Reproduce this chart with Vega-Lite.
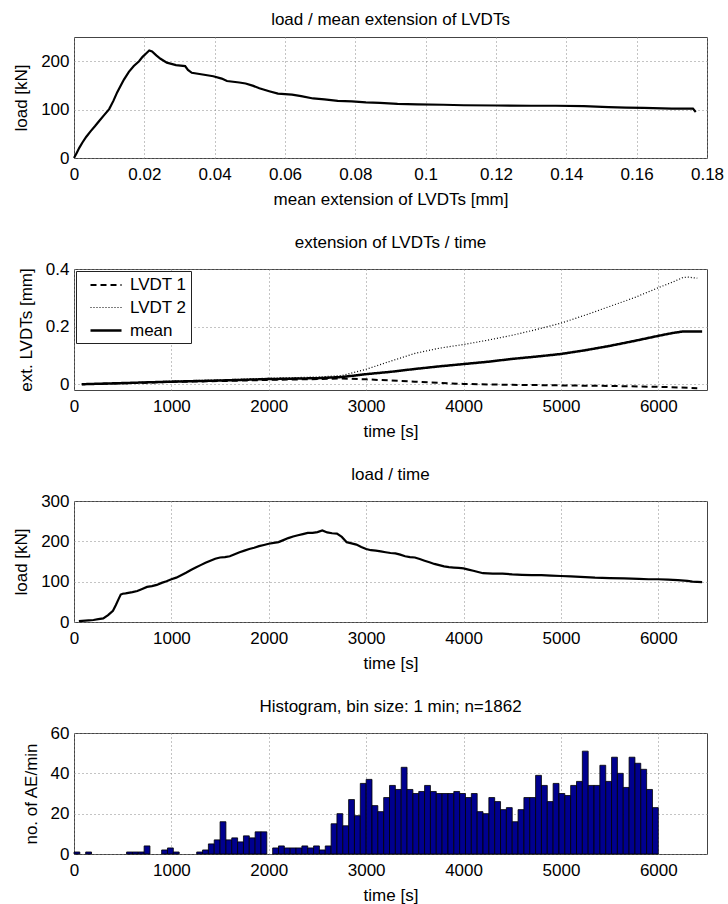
{
  "$schema": "https://vega.github.io/schema/vega-lite/v6.json",
  "background": "white",
  "padding": {"left": 12, "top": 10, "right": 3, "bottom": 2},
  "spacing": 25,
  "resolve": {"legend": {"strokeDash": "independent", "strokeWidth": "independent"}, "scale": {"strokeDash": "independent", "strokeWidth": "independent"}},
  "config": {
    "font": "Liberation Sans",
    "view": {"stroke": "#444", "strokeWidth": 1},
    "axis": {
      "labelFont": "Liberation Sans", "labelFontSize": 17, "labelColor": "black",
      "titleFont": "Liberation Sans", "titleFontSize": 17, "titleFontWeight": "normal", "titleColor": "black",
      "ticks": false, "domain": false, "gridColor": "#888", "gridDash": [1, 3], "gridOpacity": 1,
      "labelPadding": 5, "labelFlush": false, "labelOverlap": false, "format": "~r"
    },
    "axisX": {"labelPadding": 8, "titlePadding": 9},
    "axisY": {"titlePadding": 10},
    "title": {"font": "Liberation Sans", "fontSize": 17, "fontWeight": "normal", "color": "black", "offset": 8, "anchor": "middle"},
    "legend": {
      "orient": "top-left", "offset": 2, "strokeColor": "#222", "fillColor": "white", "padding": 4.5,
      "symbolType": "M0,0H3.65", "symbolSize": 289, "symbolStrokeColor": "black", "symbolFillColor": "transparent",
      "labelFont": "Liberation Sans", "labelFontSize": 17, "labelColor": "black", "labelOffset": 29.5, "rowPadding": 4.5
    }
  },
  "datasets": {
    "p1": [
      {"ext": 0, "load": 0}, {"ext": 0.0008, "load": 11}, {"ext": 0.0015, "load": 21}, {"ext": 0.0024, "load": 32},
      {"ext": 0.0035, "load": 44}, {"ext": 0.0047, "load": 55}, {"ext": 0.006, "load": 66}, {"ext": 0.0071, "load": 76},
      {"ext": 0.0085, "load": 88}, {"ext": 0.01, "load": 101}, {"ext": 0.0112, "load": 118}, {"ext": 0.0123, "load": 136},
      {"ext": 0.0133, "load": 150}, {"ext": 0.0142, "load": 162}, {"ext": 0.0156, "load": 178}, {"ext": 0.017, "load": 190},
      {"ext": 0.0185, "load": 200}, {"ext": 0.0195, "load": 209}, {"ext": 0.0205, "load": 216}, {"ext": 0.0214, "load": 222},
      {"ext": 0.0222, "load": 220}, {"ext": 0.0234, "load": 212}, {"ext": 0.0246, "load": 205}, {"ext": 0.0264, "load": 197},
      {"ext": 0.029, "load": 192}, {"ext": 0.0316, "load": 190}, {"ext": 0.0324, "load": 182}, {"ext": 0.0335, "load": 176},
      {"ext": 0.037, "load": 172}, {"ext": 0.0396, "load": 169}, {"ext": 0.042, "load": 164}, {"ext": 0.0435, "load": 159},
      {"ext": 0.047, "load": 156}, {"ext": 0.0488, "load": 154}, {"ext": 0.051, "load": 149}, {"ext": 0.0527, "load": 144},
      {"ext": 0.0555, "load": 138}, {"ext": 0.058, "load": 133}, {"ext": 0.062, "load": 131}, {"ext": 0.0646, "load": 128},
      {"ext": 0.068, "load": 123}, {"ext": 0.0712, "load": 121}, {"ext": 0.075, "load": 118}, {"ext": 0.079, "load": 117},
      {"ext": 0.083, "load": 115}, {"ext": 0.087, "load": 114}, {"ext": 0.092, "load": 112}, {"ext": 0.0976, "load": 111},
      {"ext": 0.105, "load": 110}, {"ext": 0.1108, "load": 109}, {"ext": 0.12, "load": 108.5}, {"ext": 0.13, "load": 108},
      {"ext": 0.137, "load": 108}, {"ext": 0.145, "load": 107}, {"ext": 0.152, "load": 105}, {"ext": 0.157, "load": 104},
      {"ext": 0.162, "load": 103.5}, {"ext": 0.17, "load": 102}, {"ext": 0.176, "load": 102}, {"ext": 0.1768, "load": 95}
    ],
    "p2": [
      {"t": 80, "ext": 0, "series": "LVDT 1"}, {"t": 500, "ext": 0.003, "series": "LVDT 1"}, {"t": 1000, "ext": 0.008, "series": "LVDT 1"},
      {"t": 1500, "ext": 0.011, "series": "LVDT 1"}, {"t": 2000, "ext": 0.015, "series": "LVDT 1"}, {"t": 2500, "ext": 0.018, "series": "LVDT 1"},
      {"t": 2750, "ext": 0.02, "series": "LVDT 1"}, {"t": 3000, "ext": 0.017, "series": "LVDT 1"}, {"t": 3250, "ext": 0.013, "series": "LVDT 1"},
      {"t": 3500, "ext": 0.009, "series": "LVDT 1"}, {"t": 3750, "ext": 0.005, "series": "LVDT 1"}, {"t": 4000, "ext": 0.001, "series": "LVDT 1"},
      {"t": 4500, "ext": -0.002, "series": "LVDT 1"}, {"t": 5000, "ext": -0.004, "series": "LVDT 1"}, {"t": 5500, "ext": -0.006, "series": "LVDT 1"},
      {"t": 6000, "ext": -0.009, "series": "LVDT 1"}, {"t": 6200, "ext": -0.011, "series": "LVDT 1"}, {"t": 6400, "ext": -0.014, "series": "LVDT 1"},
      {"t": 80, "ext": 0, "series": "LVDT 2"}, {"t": 500, "ext": 0.004, "series": "LVDT 2"}, {"t": 1000, "ext": 0.011, "series": "LVDT 2"},
      {"t": 1500, "ext": 0.015, "series": "LVDT 2"}, {"t": 2000, "ext": 0.021, "series": "LVDT 2"}, {"t": 2500, "ext": 0.025, "series": "LVDT 2"},
      {"t": 2750, "ext": 0.03, "series": "LVDT 2"}, {"t": 3000, "ext": 0.052, "series": "LVDT 2"}, {"t": 3250, "ext": 0.08, "series": "LVDT 2"},
      {"t": 3500, "ext": 0.107, "series": "LVDT 2"}, {"t": 3750, "ext": 0.125, "series": "LVDT 2"}, {"t": 4000, "ext": 0.138, "series": "LVDT 2"},
      {"t": 4250, "ext": 0.153, "series": "LVDT 2"}, {"t": 4500, "ext": 0.17, "series": "LVDT 2"}, {"t": 4750, "ext": 0.19, "series": "LVDT 2"},
      {"t": 5000, "ext": 0.212, "series": "LVDT 2"}, {"t": 5250, "ext": 0.24, "series": "LVDT 2"}, {"t": 5500, "ext": 0.27, "series": "LVDT 2"},
      {"t": 5750, "ext": 0.3, "series": "LVDT 2"}, {"t": 6000, "ext": 0.335, "series": "LVDT 2"}, {"t": 6150, "ext": 0.355, "series": "LVDT 2"},
      {"t": 6250, "ext": 0.37, "series": "LVDT 2"}, {"t": 6300, "ext": 0.372, "series": "LVDT 2"}, {"t": 6400, "ext": 0.368, "series": "LVDT 2"},
      {"t": 80, "ext": 0, "series": "mean"}, {"t": 500, "ext": 0.004, "series": "mean"}, {"t": 1000, "ext": 0.009, "series": "mean"},
      {"t": 1500, "ext": 0.013, "series": "mean"}, {"t": 2000, "ext": 0.018, "series": "mean"}, {"t": 2500, "ext": 0.021, "series": "mean"},
      {"t": 2750, "ext": 0.025, "series": "mean"}, {"t": 3000, "ext": 0.035, "series": "mean"}, {"t": 3250, "ext": 0.043, "series": "mean"},
      {"t": 3500, "ext": 0.053, "series": "mean"}, {"t": 3750, "ext": 0.062, "series": "mean"}, {"t": 4000, "ext": 0.07, "series": "mean"},
      {"t": 4250, "ext": 0.078, "series": "mean"}, {"t": 4500, "ext": 0.088, "series": "mean"}, {"t": 4750, "ext": 0.096, "series": "mean"},
      {"t": 5000, "ext": 0.105, "series": "mean"}, {"t": 5250, "ext": 0.118, "series": "mean"}, {"t": 5500, "ext": 0.133, "series": "mean"},
      {"t": 5750, "ext": 0.15, "series": "mean"}, {"t": 6000, "ext": 0.168, "series": "mean"}, {"t": 6150, "ext": 0.178, "series": "mean"},
      {"t": 6250, "ext": 0.183, "series": "mean"}, {"t": 6450, "ext": 0.183, "series": "mean"}
    ],
    "p3": [
      {"t": 50, "load": 2}, {"t": 150, "load": 4}, {"t": 200, "load": 5}, {"t": 250, "load": 7}, {"t": 300, "load": 9},
      {"t": 350, "load": 17}, {"t": 400, "load": 28}, {"t": 430, "load": 42}, {"t": 460, "load": 58}, {"t": 480, "load": 68},
      {"t": 500, "load": 70}, {"t": 530, "load": 71}, {"t": 600, "load": 74}, {"t": 650, "load": 77}, {"t": 700, "load": 82},
      {"t": 750, "load": 87}, {"t": 800, "load": 89}, {"t": 850, "load": 92}, {"t": 900, "load": 97}, {"t": 950, "load": 101},
      {"t": 1000, "load": 106}, {"t": 1050, "load": 110}, {"t": 1100, "load": 116}, {"t": 1150, "load": 122}, {"t": 1200, "load": 129},
      {"t": 1250, "load": 135}, {"t": 1300, "load": 141}, {"t": 1350, "load": 147}, {"t": 1400, "load": 152}, {"t": 1450, "load": 157},
      {"t": 1500, "load": 160}, {"t": 1550, "load": 161}, {"t": 1600, "load": 163}, {"t": 1650, "load": 168}, {"t": 1700, "load": 173},
      {"t": 1750, "load": 177}, {"t": 1800, "load": 181}, {"t": 1850, "load": 184}, {"t": 1900, "load": 188}, {"t": 1950, "load": 191},
      {"t": 2000, "load": 194}, {"t": 2050, "load": 196}, {"t": 2100, "load": 198}, {"t": 2150, "load": 203}, {"t": 2200, "load": 208},
      {"t": 2250, "load": 212}, {"t": 2300, "load": 215}, {"t": 2350, "load": 218}, {"t": 2400, "load": 221}, {"t": 2450, "load": 221},
      {"t": 2500, "load": 223}, {"t": 2550, "load": 227}, {"t": 2600, "load": 222}, {"t": 2650, "load": 220}, {"t": 2700, "load": 219},
      {"t": 2750, "load": 211}, {"t": 2800, "load": 198}, {"t": 2850, "load": 195}, {"t": 2900, "load": 192}, {"t": 2950, "load": 186},
      {"t": 3000, "load": 181}, {"t": 3050, "load": 178}, {"t": 3100, "load": 177}, {"t": 3150, "load": 175}, {"t": 3200, "load": 173},
      {"t": 3250, "load": 171}, {"t": 3300, "load": 170}, {"t": 3350, "load": 167}, {"t": 3400, "load": 163}, {"t": 3450, "load": 161},
      {"t": 3500, "load": 160}, {"t": 3550, "load": 156}, {"t": 3600, "load": 152}, {"t": 3650, "load": 148}, {"t": 3700, "load": 144},
      {"t": 3750, "load": 141}, {"t": 3800, "load": 138}, {"t": 3850, "load": 136}, {"t": 3900, "load": 135}, {"t": 3950, "load": 134},
      {"t": 4000, "load": 133}, {"t": 4050, "load": 130}, {"t": 4100, "load": 127}, {"t": 4150, "load": 124}, {"t": 4200, "load": 121},
      {"t": 4300, "load": 120}, {"t": 4400, "load": 120}, {"t": 4500, "load": 118}, {"t": 4600, "load": 117}, {"t": 4700, "load": 116},
      {"t": 4800, "load": 116}, {"t": 4900, "load": 115}, {"t": 5000, "load": 114}, {"t": 5100, "load": 113}, {"t": 5200, "load": 112},
      {"t": 5350, "load": 110}, {"t": 5500, "load": 109}, {"t": 5650, "load": 108}, {"t": 5800, "load": 107}, {"t": 5900, "load": 106},
      {"t": 6000, "load": 106}, {"t": 6100, "load": 105}, {"t": 6200, "load": 104}, {"t": 6300, "load": 102}, {"t": 6350, "load": 100},
      {"t": 6450, "load": 99}
    ],
    "p4": [
      {"t0": 0, "t1": 60, "n": 1}, {"t0": 120, "t1": 180, "n": 1}, {"t0": 540, "t1": 600, "n": 1}, {"t0": 600, "t1": 660, "n": 1},
      {"t0": 660, "t1": 720, "n": 1}, {"t0": 720, "t1": 780, "n": 4}, {"t0": 900, "t1": 960, "n": 2}, {"t0": 960, "t1": 1020, "n": 3},
      {"t0": 1020, "t1": 1080, "n": 1}, {"t0": 1260, "t1": 1320, "n": 1}, {"t0": 1320, "t1": 1380, "n": 2}, {"t0": 1380, "t1": 1440, "n": 5},
      {"t0": 1440, "t1": 1500, "n": 7}, {"t0": 1500, "t1": 1560, "n": 16}, {"t0": 1560, "t1": 1620, "n": 7}, {"t0": 1620, "t1": 1680, "n": 8},
      {"t0": 1680, "t1": 1740, "n": 6}, {"t0": 1740, "t1": 1800, "n": 9}, {"t0": 1800, "t1": 1860, "n": 8}, {"t0": 1860, "t1": 1920, "n": 11},
      {"t0": 1920, "t1": 1980, "n": 11}, {"t0": 2040, "t1": 2100, "n": 3}, {"t0": 2100, "t1": 2160, "n": 4}, {"t0": 2160, "t1": 2220, "n": 3},
      {"t0": 2220, "t1": 2280, "n": 3}, {"t0": 2280, "t1": 2340, "n": 3}, {"t0": 2340, "t1": 2400, "n": 4}, {"t0": 2400, "t1": 2460, "n": 3},
      {"t0": 2460, "t1": 2520, "n": 4}, {"t0": 2520, "t1": 2580, "n": 2}, {"t0": 2580, "t1": 2640, "n": 4}, {"t0": 2640, "t1": 2700, "n": 15},
      {"t0": 2700, "t1": 2760, "n": 20}, {"t0": 2760, "t1": 2820, "n": 14}, {"t0": 2820, "t1": 2880, "n": 27}, {"t0": 2880, "t1": 2940, "n": 19},
      {"t0": 2940, "t1": 3000, "n": 35}, {"t0": 3000, "t1": 3060, "n": 37}, {"t0": 3060, "t1": 3120, "n": 24}, {"t0": 3120, "t1": 3180, "n": 21},
      {"t0": 3180, "t1": 3240, "n": 28}, {"t0": 3240, "t1": 3300, "n": 34}, {"t0": 3300, "t1": 3360, "n": 32}, {"t0": 3360, "t1": 3420, "n": 43},
      {"t0": 3420, "t1": 3480, "n": 32}, {"t0": 3480, "t1": 3540, "n": 30}, {"t0": 3540, "t1": 3600, "n": 31}, {"t0": 3600, "t1": 3660, "n": 34},
      {"t0": 3660, "t1": 3720, "n": 31}, {"t0": 3720, "t1": 3780, "n": 30}, {"t0": 3780, "t1": 3840, "n": 30}, {"t0": 3840, "t1": 3900, "n": 30},
      {"t0": 3900, "t1": 3960, "n": 31}, {"t0": 3960, "t1": 4020, "n": 30}, {"t0": 4020, "t1": 4080, "n": 28}, {"t0": 4080, "t1": 4140, "n": 30},
      {"t0": 4140, "t1": 4200, "n": 21}, {"t0": 4200, "t1": 4260, "n": 20}, {"t0": 4260, "t1": 4320, "n": 28}, {"t0": 4320, "t1": 4380, "n": 26},
      {"t0": 4380, "t1": 4440, "n": 22}, {"t0": 4440, "t1": 4500, "n": 23}, {"t0": 4500, "t1": 4560, "n": 16}, {"t0": 4560, "t1": 4620, "n": 22},
      {"t0": 4620, "t1": 4680, "n": 28}, {"t0": 4680, "t1": 4740, "n": 28}, {"t0": 4740, "t1": 4800, "n": 39}, {"t0": 4800, "t1": 4860, "n": 34},
      {"t0": 4860, "t1": 4920, "n": 26}, {"t0": 4920, "t1": 4980, "n": 35}, {"t0": 4980, "t1": 5040, "n": 30}, {"t0": 5040, "t1": 5100, "n": 29},
      {"t0": 5100, "t1": 5160, "n": 34}, {"t0": 5160, "t1": 5220, "n": 36}, {"t0": 5220, "t1": 5280, "n": 51}, {"t0": 5280, "t1": 5340, "n": 34},
      {"t0": 5340, "t1": 5400, "n": 34}, {"t0": 5400, "t1": 5460, "n": 44}, {"t0": 5460, "t1": 5520, "n": 36}, {"t0": 5520, "t1": 5580, "n": 48},
      {"t0": 5580, "t1": 5640, "n": 40}, {"t0": 5640, "t1": 5700, "n": 33}, {"t0": 5700, "t1": 5760, "n": 48}, {"t0": 5760, "t1": 5820, "n": 45},
      {"t0": 5820, "t1": 5880, "n": 42}, {"t0": 5880, "t1": 5940, "n": 32}, {"t0": 5940, "t1": 6000, "n": 23}
    ]
  },
  "vconcat": [
    {
      "width": 633, "height": 121,
      "title": "load / mean extension of LVDTs",
      "data": {"name": "p1"},
      "mark": {"type": "line", "color": "black", "strokeWidth": 2.2},
      "encoding": {
        "x": {"field": "ext", "type": "quantitative", "title": "mean extension of LVDTs [mm]",
              "scale": {"domain": [0, 0.18], "nice": false, "zero": false},
              "axis": {"values": [0, 0.02, 0.04, 0.06, 0.08, 0.1, 0.12, 0.14, 0.16, 0.18]}},
        "y": {"field": "load", "type": "quantitative", "title": "load [kN]",
              "scale": {"domain": [0, 250], "nice": false},
              "axis": {"values": [0, 100, 200]}}
      }
    },
    {
      "width": 633, "height": 121,
      "title": "extension of LVDTs / time",
      "data": {"name": "p2"},
      "mark": {"type": "line", "color": "black"},
      "encoding": {
        "x": {"field": "t", "type": "quantitative", "title": "time [s]",
              "scale": {"domain": [0, 6500], "nice": false, "zero": false},
              "axis": {"values": [0, 1000, 2000, 3000, 4000, 5000, 6000]}},
        "y": {"field": "ext", "type": "quantitative", "title": "ext. LVDTs [mm]",
              "scale": {"domain": [-0.02, 0.4], "nice": false, "zero": false},
              "axis": {"values": [0, 0.2, 0.4]}},
        "strokeDash": {"field": "series", "type": "nominal", "title": null,
              "scale": {"domain": ["LVDT 1", "LVDT 2", "mean"], "range": [[6, 4], [1, 2], [1, 0]]}},
        "strokeWidth": {"field": "series", "type": "nominal", "title": null,
              "scale": {"type": "ordinal", "domain": ["LVDT 1", "LVDT 2", "mean"], "range": [2, 1.2, 2.5]}}
      }
    },
    {
      "width": 633, "height": 121,
      "title": "load / time",
      "data": {"name": "p3"},
      "mark": {"type": "line", "color": "black", "strokeWidth": 2.2},
      "encoding": {
        "x": {"field": "t", "type": "quantitative", "title": "time [s]",
              "scale": {"domain": [0, 6500], "nice": false, "zero": false},
              "axis": {"values": [0, 1000, 2000, 3000, 4000, 5000, 6000]}},
        "y": {"field": "load", "type": "quantitative", "title": "load [kN]",
              "scale": {"domain": [0, 300], "nice": false},
              "axis": {"values": [0, 100, 200, 300]}}
      }
    },
    {
      "width": 633, "height": 121,
      "title": "Histogram, bin size: 1 min; n=1862",
      "data": {"name": "p4"},
      "mark": {"type": "bar", "fill": "#00008F", "stroke": "black", "strokeWidth": 0.8},
      "encoding": {
        "x": {"field": "t0", "type": "quantitative", "title": "time [s]",
              "scale": {"domain": [0, 6500], "nice": false, "zero": false},
              "axis": {"values": [0, 1000, 2000, 3000, 4000, 5000, 6000]}},
        "x2": {"field": "t1"},
        "y": {"field": "n", "type": "quantitative", "title": "no. of AE/min",
              "scale": {"domain": [0, 60], "nice": false},
              "axis": {"values": [0, 20, 40, 60]}},
        "y2": {"datum": 0}
      }
    }
  ]
}
